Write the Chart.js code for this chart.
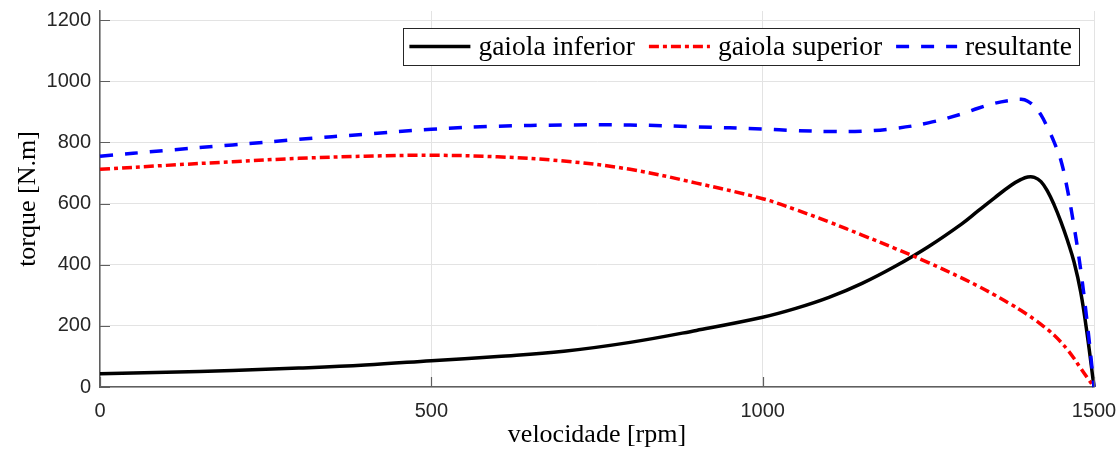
<!DOCTYPE html>
<html>
<head>
<meta charset="utf-8">
<script src="https://cdn.jsdelivr.net/npm/chart.js@4/dist/chart.umd.min.js"></script>
<style>
  html, body { margin: 0; padding: 0; background: #ffffff; }
  #c { display: block; }
</style>
</head>
<body>
<canvas id="c" width="1118" height="451"></canvas>
<script>
// Torque vs. speed of a double-cage induction motor
const rpm = [0, 100, 200, 300, 400, 500, 600, 700, 800, 900, 1000, 1050, 1100, 1150, 1200, 1250,
             1300, 1325, 1350, 1375, 1390, 1400, 1410, 1420, 1430, 1440, 1450, 1460, 1470, 1480, 1490, 1500];
const gaiolaInferior = [43, 48, 54, 62, 72, 86, 100, 117, 146, 185, 228, 257, 293, 339, 395, 459,
                        533, 576, 619, 660, 679, 687, 686, 672, 640, 595, 541, 479, 408, 310, 168, 0];
const gaiolaSuperior = [712, 725, 737, 748, 755, 758, 753, 739, 712, 667, 616, 580, 540, 497, 453, 407,
                        357, 330, 301, 270, 250, 236, 221, 205, 188, 169, 147, 122, 93, 61, 30, 0];
const resultante = [755, 774, 792, 810, 827, 843, 853, 857, 857, 851, 844, 839, 836, 837, 846, 864,
                    893, 912, 928, 938, 941, 935, 918, 890, 848, 800, 742, 645, 524, 382, 205, 0];

const seriesLabels = ['gaiola inferior', 'gaiola superior', 'resultante'];
const xTicks = [0, 500, 1000, 1500];
const yTicks = [0, 200, 400, 600, 800, 1000, 1200];
const xTitle = 'velocidade [rpm]';
const yTitle = 'torque [N.m]';

const SANS = '"Liberation Sans", Arial, Helvetica, sans-serif';
const SERIF = '"Liberation Serif", "Times New Roman", serif';
const AXIS_COLOR = '#5f5f5f';
const GRID_COLOR = '#e3e3e3';

const toPoints = (ys) => rpm.map((x, i) => ({ x, y: ys[i] }));

// Small inward tick marks on both axes
const inwardTicks = {
  id: 'inwardTicks',
  afterDatasetsDraw(chart) {
    const { ctx, chartArea, scales } = chart;
    ctx.save();
    ctx.strokeStyle = AXIS_COLOR;
    ctx.lineWidth = 1.2;
    ctx.beginPath();
    yTicks.forEach(v => {
      const y = Math.round(scales.y.getPixelForValue(v)) + 0.5;
      ctx.moveTo(chartArea.left, y);
      ctx.lineTo(chartArea.left + 10, y);
    });
    xTicks.forEach(v => {
      const x = Math.round(scales.x.getPixelForValue(v)) + 0.5;
      ctx.moveTo(x, chartArea.bottom);
      ctx.lineTo(x, chartArea.bottom - 10);
    });
    ctx.stroke();
    ctx.restore();
  }
};

// Boxed legend in the upper right corner of the plot area
const boxedLegend = {
  id: 'boxedLegend',
  afterDraw(chart) {
    const { ctx, chartArea } = chart;
    const sets = chart.data.datasets;
    const sample = 61, gapText = 8, gapItem = 14, padL = 6, padR = 7;
    ctx.save();
    ctx.font = '27.5px ' + SERIF;
    const widths = sets.map(d => ctx.measureText(d.label).width);
    let total = padL + padR;
    widths.forEach((w, i) => { total += sample + gapText + w + (i < widths.length - 1 ? gapItem : 0); });
    const right = chartArea.right - 15;
    const left = right - total;
    const top = chartArea.top + 17;
    const h = 37;
    ctx.fillStyle = '#ffffff';
    ctx.fillRect(left, top, total, h);
    ctx.strokeStyle = '#262626';
    ctx.lineWidth = 1;
    ctx.strokeRect(Math.round(left) + 0.5, Math.round(top) + 0.5, Math.round(total), h);
    const cy = top + h / 2;
    let x = left + padL;
    sets.forEach((d, i) => {
      ctx.save();
      ctx.strokeStyle = d.borderColor;
      ctx.lineWidth = d.borderWidth;
      ctx.setLineDash(d.borderDash || []);
      ctx.lineCap = 'butt';
      ctx.beginPath();
      ctx.moveTo(x, cy);
      ctx.lineTo(x + sample, cy);
      ctx.stroke();
      ctx.restore();
      x += sample + gapText;
      ctx.fillStyle = '#000000';
      ctx.textBaseline = 'middle';
      ctx.textAlign = 'left';
      ctx.fillText(d.label, x, cy + 1);
      x += widths[i] + gapItem;
    });
    ctx.restore();
  }
};

const plainNumber = v => String(v);

new Chart(document.getElementById('c'), {
  type: 'line',
  data: {
    datasets: [
      {
        label: seriesLabels[0],
        data: toPoints(gaiolaInferior),
        borderColor: '#000000',
        borderWidth: 3.5,
        borderDash: [],
        order: 3
      },
      {
        label: seriesLabels[1],
        data: toPoints(gaiolaSuperior),
        borderColor: '#ff0000',
        borderWidth: 3.5,
        borderDash: [10, 4, 4, 4],
        order: 2
      },
      {
        label: seriesLabels[2],
        data: toPoints(resultante),
        borderColor: '#0000ff',
        borderWidth: 3.5,
        borderDash: [13, 12],
        order: 1
      }
    ]
  },
  options: {
    responsive: false,
    devicePixelRatio: 1,
    animation: false,
    layout: { padding: { top: 11, right: 24, left: 0, bottom: 0 } },
    elements: {
      point: { radius: 0, hoverRadius: 0 },
      line: { tension: 0.4, cubicInterpolationMode: 'default', fill: false, borderCapStyle: 'butt', borderJoinStyle: 'round' }
    },
    datasets: { line: { clip: 6 } },
    plugins: { legend: { display: false }, tooltip: { enabled: false } },
    scales: {
      x: {
        type: 'linear',
        min: 0,
        max: 1500,
        afterBuildTicks: s => { s.ticks = xTicks.map(v => ({ value: v })); },
        afterFit: s => { s.height = 64; s.paddingLeft = 0; s.paddingRight = 0; },
        grid: { color: GRID_COLOR, lineWidth: 1, drawTicks: false },
        border: { color: AXIS_COLOR, width: 1.5 },
        ticks: {
          padding: 12, color: '#262626', maxRotation: 0, autoSkip: false,
          font: { family: SANS, size: 20 }, callback: plainNumber
        },
        title: {
          display: true, text: xTitle, color: '#000000',
          font: { family: SERIF, size: 26 }, padding: { top: 0, bottom: 0 }
        }
      },
      y: {
        type: 'linear',
        min: 0,
        max: 1230,
        afterBuildTicks: s => { s.ticks = yTicks.map(v => ({ value: v })); },
        afterFit: s => { s.width = 100; s.paddingTop = 0; s.paddingBottom = 0; },
        grid: { color: GRID_COLOR, lineWidth: 1, drawTicks: false },
        border: { color: AXIS_COLOR, width: 1.5 },
        ticks: {
          padding: 9, color: '#262626', autoSkip: false,
          font: { family: SANS, size: 20 }, callback: plainNumber
        },
        title: {
          display: true, text: yTitle, color: '#000000',
          font: { family: SERIF, size: 26 }, padding: { top: 13, bottom: 0 }
        }
      }
    }
  },
  plugins: [inwardTicks, boxedLegend]
});
</script>
</body>
</html>
